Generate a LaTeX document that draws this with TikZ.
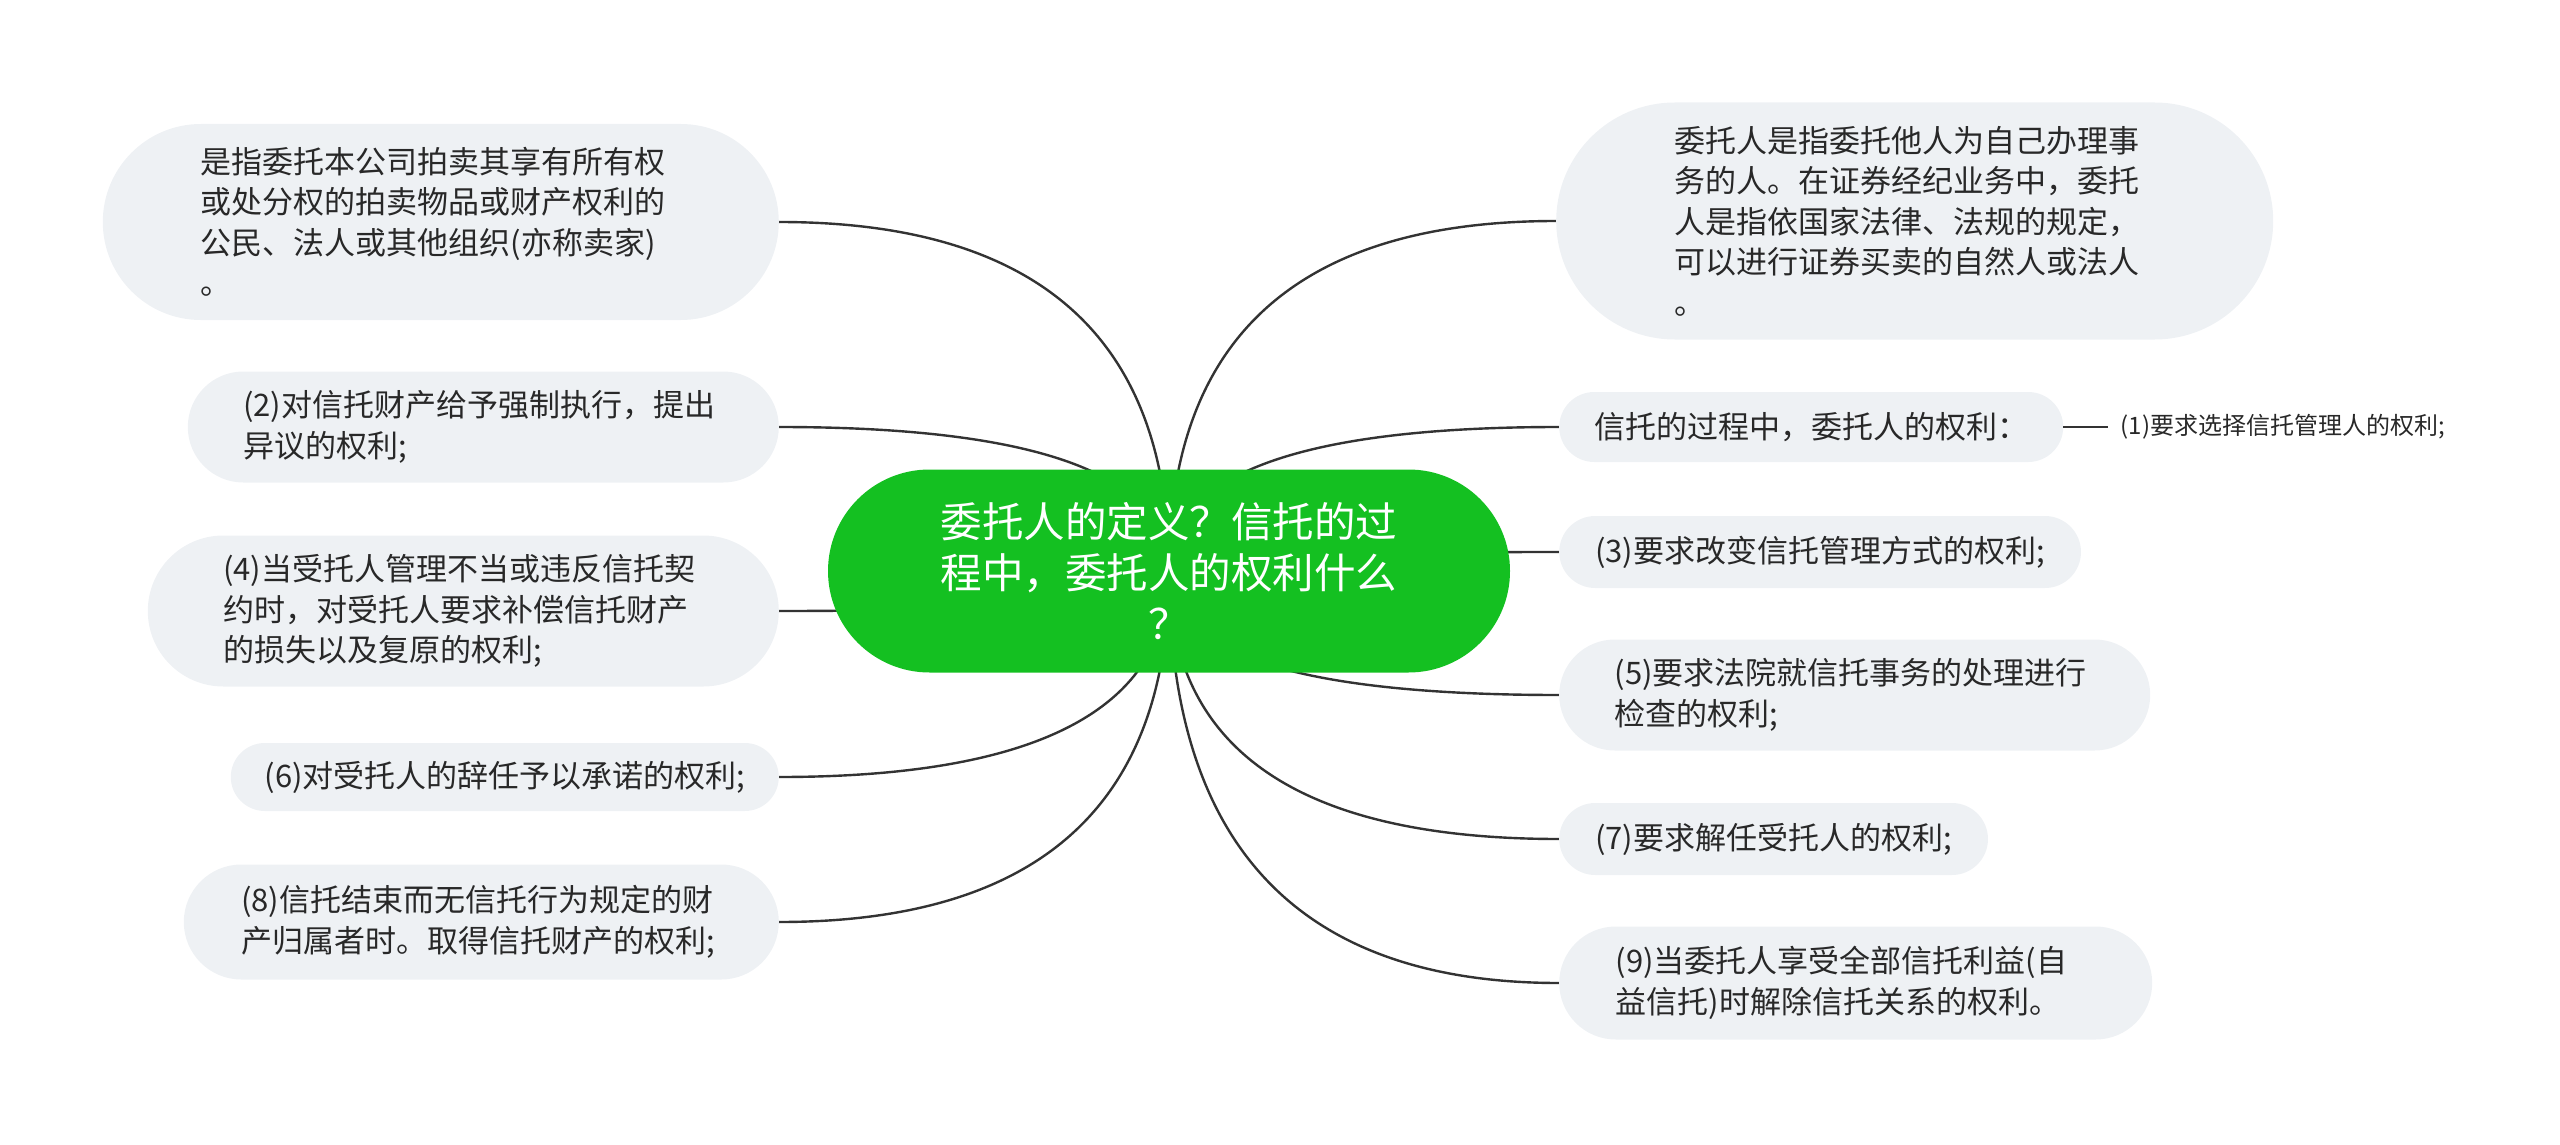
\documentclass[tikz,border=0pt]{standalone}
\usepackage{fontspec}
\setmainfont{Noto Sans CJK SC}
\usepackage{tikz}
\usetikzlibrary{positioning}
\usetikzlibrary{backgrounds}
\usetikzlibrary{calc}
\definecolor{rootgreen}{RGB}{20,192,33}
\definecolor{leafgray}{RGB}{238,241,244}
\definecolor{ink}{RGB}{40,40,40}
\definecolor{wire}{RGB}{51,51,51}

\begin{document}
\begin{tikzpicture}[x=1pt, y=-1pt,
  every node/.style = {align=left, text=ink},
  hub/.style = {fill=rootgreen, text=white, align=center,
    font=\fontsize{41.5}{51}\selectfont,
    minimum width=682pt, minimum height=203pt, rounded corners=101.5pt},
  leaf/.style = {fill=leafgray, inner ysep=8pt,
    font=\fontsize{31}{40.5}\selectfont,
    minimum height=#1, inner xsep=#1/2, rounded corners=#1/2},
  wrap/.style = {text width=480pt},
  branch/.style = {draw=wire, line width=2.4pt}]
  \useasboundingbox (0,0) rectangle (2560,1145);
  \node[hub] (central) at (1169,571) {委托人的定义？信托的过\\程中，委托人的权利什么\\？};
  \node[leaf=196pt, wrap, anchor=east] (seller) at (779,222) {是指委托本公司拍卖其享有所有权\\或处分权的拍卖物品或财产权利的\\公民、法人或其他组织(亦称卖家)\\。};
  \node[leaf=111pt, wrap, anchor=east] (object) at (779,427) {(2)对信托财产给予强制执行，提出\\异议的权利;};
  \node[leaf=151pt, wrap, anchor=east] (compensate) at (779,611) {(4)当受托人管理不当或违反信托契\\约时，对受托人要求补偿信托财产\\的损失以及复原的权利;};
  \node[leaf=68pt, wrap, anchor=east] (accept) at (779,777) {(6)对受托人的辞任予以承诺的权利;};
  \node[leaf=115pt, wrap, anchor=east] (property) at (779,922) {(8)信托结束而无信托行为规定的财\\产归属者时。取得信托财产的权利;};
  \node[leaf=237pt, wrap, anchor=west] (meaning) at (1556,221) {委托人是指委托他人为自己办理事\\务的人。在证券经纪业务中，委托\\人是指依国家法律、法规的规定，\\可以进行证券买卖的自然人或法人\\。};
  \node[leaf=70pt, anchor=west] (process) at (1559,427) {信托的过程中，委托人的权利：};
  \node[leaf=72pt, anchor=west] (change) at (1559,552) {(3)要求改变信托管理方式的权利;};
  \node[leaf=111pt, wrap, anchor=west] (inspect) at (1559,695) {(5)要求法院就信托事务的处理进行\\检查的权利;};
  \node[leaf=72pt, anchor=west] (dismiss) at (1559,839) {(7)要求解任受托人的权利;};
  \node[leaf=113pt, wrap, anchor=west] (terminate) at (1559,983) {(9)当委托人享受全部信托利益(自\\益信托)时解除信托关系的权利。};
  \node[right=45pt of process, inner xsep=12pt, font=\fontsize{24}{30}\selectfont] (choose) {(1)要求选择信托管理人的权利;};
  \begin{scope}[on background layer]
    \foreach \n/\a in {seller/east, object/east, compensate/east, accept/east, property/east,
        meaning/west, process/west, change/west, inspect/west, dismiss/west, terminate/west}
      \draw[branch] (central.center)
        .. controls ($(central.center)!2/3!(central.center |- \n.\a)$)
        and ($(\n.\a)!2/3!(central.center |- \n.\a)$) .. (\n.\a);
  \end{scope}
  \draw[branch] (process) -- (choose);
\end{tikzpicture}
\end{document}
